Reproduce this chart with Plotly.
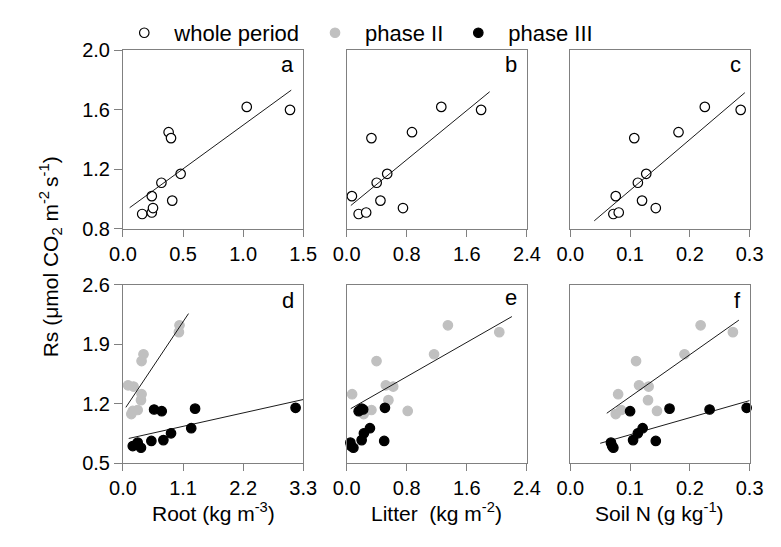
import numpy as np
import plotly.graph_objects as go

# ---------------- data ----------------
# whole period (panels a-c)
whole_rs = [0.90, 0.91, 0.94, 1.02, 1.11, 0.99, 1.17, 1.45, 1.41, 1.62, 1.60]
whole_root = [0.16, 0.24, 0.25, 0.24, 0.32, 0.41, 0.48, 0.38, 0.40, 1.03, 1.39]
whole_litter = [0.16, 0.26, 0.75, 0.07, 0.40, 0.45, 0.54, 0.87, 0.33, 1.26, 1.79]
whole_soiln = [0.072, 0.081, 0.143, 0.076, 0.113, 0.120, 0.127, 0.181, 0.107, 0.225, 0.285]

# phase II (grey, panels d-f)
p2_rs = [2.12, 2.04, 1.78, 1.70, 1.415, 1.40, 1.31, 1.24, 1.124, 1.113, 1.076]
p2_root = [1.035, 1.024, 0.376, 0.341, 0.094, 0.194, 0.341, 0.33, 0.27, 0.18, 0.153]
p2_litter = [1.348, 2.032, 1.164, 0.398, 0.522, 0.62, 0.073, 0.556, 0.33, 0.813, 0.227]
p2_soiln = [0.218, 0.272, 0.191, 0.11, 0.115, 0.131, 0.08, 0.13, 0.085, 0.145, 0.076]

# phase III (black, panels d-f)
p3_rs = [1.15, 1.14, 1.13, 1.11, 0.91, 0.85, 0.77, 0.76, 0.74, 0.70, 0.68]
p3_root = [3.16, 1.32, 0.57, 0.71, 1.25, 0.88, 0.74, 0.52, 0.27, 0.18, 0.33]
p3_litter = [0.51, 0.20, 0.22, 0.16, 0.31, 0.23, 0.20, 0.50, 0.05, 0.06, 0.09]
p3_soiln = [0.295, 0.166, 0.233, 0.10, 0.121, 0.113, 0.105, 0.143, 0.068, 0.07, 0.072]

# x extent of each drawn regression line
fit_a = [0.056, 1.40]
fit_b = [0.056, 1.904]
fit_c = [0.04, 0.292]
fit_d2 = [0.053, 1.2]
fit_d3 = [0.106, 3.3]
fit_e2 = [0.055, 2.2]
fit_f2 = [0.061, 0.282]
fit_f3 = [0.05, 0.3]

# axes
x_ranges = [[0, 1.5], [0, 2.4], [0, 0.3], [0, 3.3], [0, 2.4], [0, 0.3]]
x_ticks = [[0, 0.5, 1.0, 1.5], [0, 0.8, 1.6, 2.4], [0, 0.1, 0.2, 0.3],
           [0, 1.1, 2.2, 3.3], [0, 0.8, 1.6, 2.4], [0, 0.1, 0.2, 0.3]]
y_top_range = [0.8, 2.0]
y_top_ticks = [0.8, 1.2, 1.6, 2.0]
y_bot_range = [0.5, 2.6]
y_bot_ticks = [0.5, 1.2, 1.9, 2.6]
panel_letters = ["a", "b", "c", "d", "e", "f"]
x_titles = ["Root (kg m<sup>-3</sup>)", "Litter  (kg m<sup>-2</sup>)", "Soil N (g kg<sup>-1</sup>)"]
y_title = "Rs (\u03bcmol CO<sub>2</sub> m<sup>-2 </sup>s<sup>-1</sup>)"
legend_names = ["whole period", "phase II", "phase III"]

# ---------------- figure ----------------
W, H = 781, 547
FONT = "Liberation Sans, Arial, sans-serif"
GREY = "#c0c0c0"
AXC = "#808080"
MS = 9.5
TICK_FS = 20

fig = go.Figure()


def ax_name(i, kind):
    return kind if i == 1 else f"{kind}{i}"


def add_points(i, xs, ys, fill, line_col, name=None, show=False):
    fig.add_trace(go.Scatter(
        x=xs, y=ys, mode="markers", name=name, showlegend=show,
        xaxis=ax_name(i, "x"), yaxis=ax_name(i, "y"), cliponaxis=False,
        marker=dict(size=MS, color=fill, line=dict(color=line_col, width=1.2)),
    ))


def add_fit(i, xs, ys, extent):
    k, b = np.polyfit(xs, ys, 1)
    ex = np.array(extent)
    fig.add_trace(go.Scatter(
        x=ex, y=k * ex + b, mode="lines", showlegend=False,
        xaxis=ax_name(i, "x"), yaxis=ax_name(i, "y"),
        line=dict(color="black", width=0.9),
    ))


# top row
add_points(1, whole_root, whole_rs, "white", "black", legend_names[0], True)
add_fit(1, whole_root, whole_rs, fit_a)
add_points(2, whole_litter, whole_rs, "white", "black")
add_fit(2, whole_litter, whole_rs, fit_b)
add_points(3, whole_soiln, whole_rs, "white", "black")
add_fit(3, whole_soiln, whole_rs, fit_c)

# bottom row
add_points(4, p2_root, p2_rs, GREY, GREY, legend_names[1], True)
add_points(4, p3_root, p3_rs, "black", "black", legend_names[2], True)
add_fit(4, p2_root, p2_rs, fit_d2)
add_fit(4, p3_root, p3_rs, fit_d3)
add_points(5, p2_litter, p2_rs, GREY, GREY)
add_points(5, p3_litter, p3_rs, "black", "black")
add_fit(5, p2_litter, p2_rs, fit_e2)
add_points(6, p2_soiln, p2_rs, GREY, GREY)
add_points(6, p3_soiln, p3_rs, "black", "black")
add_fit(6, p2_soiln, p2_rs, fit_f2)
add_fit(6, p3_soiln, p3_rs, fit_f3)

col_px = [(113, 300), (345, 532), (577, 763)]
row_px = [(41, 227), (285, 471)]

layout = dict(
    width=W, height=H, margin=dict(l=0, r=0, t=0, b=0),
    paper_bgcolor="white", plot_bgcolor="white",
    font=dict(family=FONT, size=TICK_FS, color="black"),
    showlegend=True,
    legend=dict(orientation="h", x=104 / W, xanchor="left", y=1 - 1 / H, yanchor="top",
                itemwidth=50, font=dict(size=22), bgcolor="rgba(0,0,0,0)",
                itemclick=False, itemdoubleclick=False),
)

for i in range(1, 7):
    r = 0 if i <= 3 else 1
    c = (i - 1) % 3
    x0, x1 = col_px[c]
    y0, y1 = row_px[r]
    layout[ax_name(i, "xaxis")] = dict(
        domain=[x0 / W, x1 / W], anchor=ax_name(i, "y"), range=x_ranges[i - 1],
        tickvals=x_ticks[i - 1], tickformat=".1f", ticks="outside", ticklen=7,
        tickcolor=AXC, showline=True, linecolor=AXC, linewidth=1, mirror=True,
        showgrid=False, zeroline=False, tickfont=dict(size=TICK_FS),
    )
    yd = dict(
        domain=[1 - y1 / H, 1 - y0 / H], anchor=ax_name(i, "x"),
        range=y_top_range if r == 0 else y_bot_range,
        tickvals=y_top_ticks if r == 0 else y_bot_ticks, tickformat=".1f",
        showline=True, linecolor=AXC, linewidth=1, mirror=True,
        showgrid=False, zeroline=False, tickfont=dict(size=TICK_FS),
    )
    if c == 0:
        yd.update(ticks="outside", ticklen=8, tickcolor=AXC, showticklabels=True)
    else:
        yd.update(ticks="", showticklabels=False)
    layout[ax_name(i, "yaxis")] = yd

fig.update_layout(**layout)

# panel letters
letter_pos = [(293, 56), (524, 56), (756, 56), (293, 302), (524, 299), (756, 302)]
for L, (px, py) in zip(panel_letters, letter_pos):
    fig.add_annotation(x=px / W, y=1 - py / H, xref="paper", yref="paper", text=L,
                       showarrow=False, xanchor="right", yanchor="middle",
                       font=dict(size=22, family=FONT))

# x titles
for t, (x0, x1) in zip(x_titles, col_px):
    fig.add_annotation(x=(x0 + x1) / 2 / W, y=1 - 522 / H, xref="paper", yref="paper",
                       text=t, showarrow=False, xanchor="center", yanchor="middle",
                       font=dict(size=21, family=FONT))

# y title
fig.add_annotation(x=38 / W, y=1 - 256 / H, xref="paper", yref="paper", text=y_title,
                   textangle=-90, showarrow=False, xanchor="center", yanchor="middle",
                   font=dict(size=21, family=FONT))

fig.write_html("out.html", config={"displayModeBar": False},
               post_script="document.body.style.margin='0';")
